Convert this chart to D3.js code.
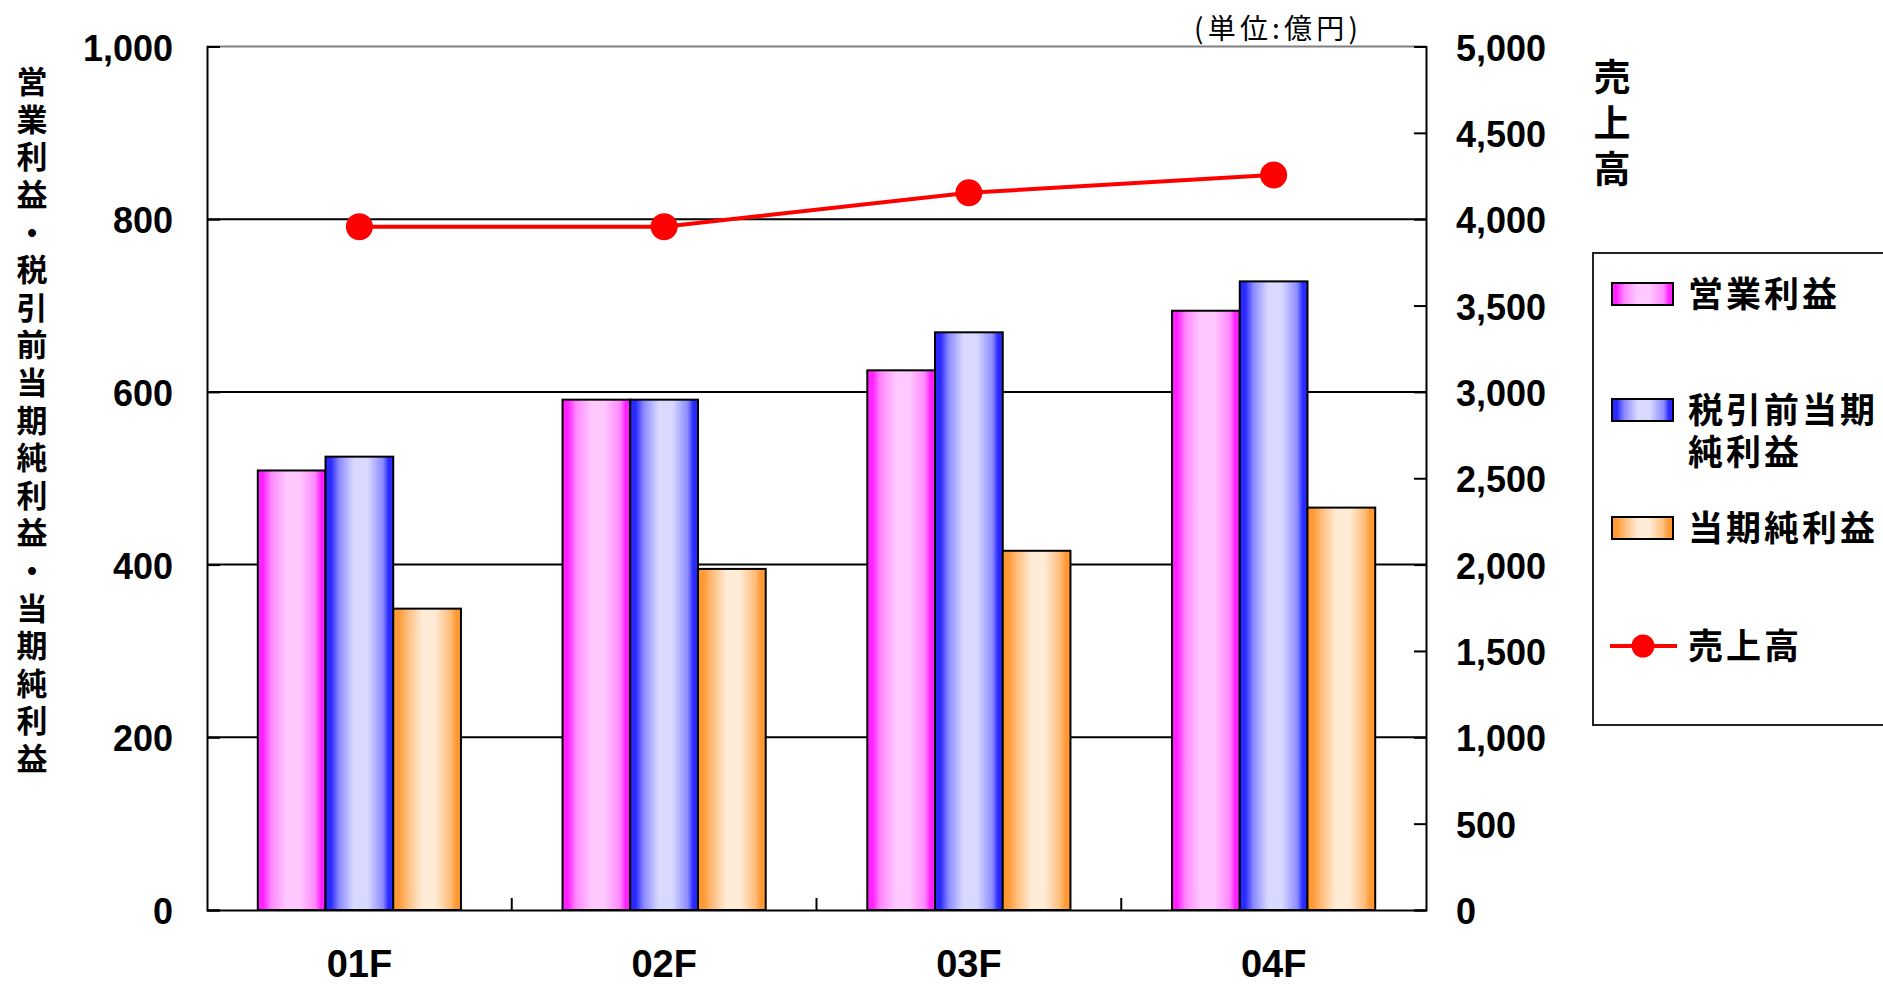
<!DOCTYPE html>
<html lang="ja">
<head>
<meta charset="utf-8">
<script src="https://cdn.jsdelivr.net/npm/d3@7"></script>
<style>
  html, body { margin: 0; padding: 0; background: #fff; }
  svg { display: block; }
</style>
</head>
<body>
<svg id="chart" width="1883" height="984"></svg>
<script>
// 決算期
const categories = ["01F", "02F", "03F", "04F"];
// 棒グラフ（左軸, 億円）
const operatingProfit = [509, 591, 625, 694];   // 営業利益
const pretaxProfit    = [525, 591, 669, 728];   // 税引前当期純利益
const netProfit       = [349, 395, 416, 466];   // 当期純利益
// 折れ線（右軸, 億円）
const sales           = [3957, 3957, 4153, 4256]; // 売上高
// 目盛
const leftTicks  = [0, 200, 400, 600, 800, 1000];
const rightTicks = [0, 500, 1000, 1500, 2000, 2500, 3000, 3500, 4000, 4500, 5000];

const barSeries = [
  { key: "op",  name: ["営業利益"],               values: operatingProfit, edge: "#ff22ff", mid: "#ff88ff", light: "#ffc8ff" },
  { key: "pre", name: ["税引前当期", "純利益"],    values: pretaxProfit,    edge: "#2a2aff", mid: "#8a8aff", light: "#d9d9ff" },
  { key: "net", name: ["当期純利益"],             values: netProfit,       edge: "#ff9933", mid: "#ffbb77", light: "#ffebd6" }
];

const NUM_FONT = "'Liberation Sans', Arial, 'Noto Sans CJK JP', sans-serif";
const JP_FONT = "'Noto Sans CJK JP', 'Liberation Sans', sans-serif";

const svg = d3.select("#chart");
const X0 = 207, X1 = 1426, Y0 = 910, Y1 = 46.5;

const x = d3.scaleBand().domain(categories).range([X0, X1]).padding(0);
const bw = x.bandwidth();
const barW = bw / 4.5;
const xs = d3.scaleBand().domain(barSeries.map(s => s.key))
  .range([barW * 0.75, bw - barW * 0.75]).padding(0);
const yL = d3.scaleLinear().domain([0, 1000]).range([Y0, Y1]);
const yR = d3.scaleLinear().domain([0, 5000]).range([Y0, Y1]);

// 円柱風のグラデーション
const defs = svg.append("defs");
function addGradient(id, s) {
  const g = defs.append("linearGradient").attr("id", id)
    .attr("x1", 0).attr("x2", 1).attr("y1", 0).attr("y2", 0);
  [[0, s.edge], [0.08, s.edge], [0.2, s.mid], [0.42, s.light], [0.62, s.light], [0.85, s.mid], [0.93, s.edge], [1, s.edge]]
    .forEach(([o, c]) => g.append("stop").attr("offset", o).attr("stop-color", c));
}
barSeries.forEach(s => addGradient("grad-" + s.key, s));

// 目盛線
svg.append("g").selectAll("line")
  .data(leftTicks.filter(t => t > 0 && t < 1000))
  .join("line")
  .attr("x1", X0).attr("x2", X1)
  .attr("y1", d => yL(d)).attr("y2", d => yL(d))
  .attr("stroke", "#000").attr("stroke-width", 2);
svg.append("line")
  .attr("x1", X0).attr("x2", X1).attr("y1", yL(1000)).attr("y2", yL(1000))
  .attr("stroke", "#808080").attr("stroke-width", 2);

// 棒グラフ
const groups = svg.append("g").selectAll("g")
  .data(categories)
  .join("g")
  .attr("transform", d => `translate(${x(d)},0)`);
groups.selectAll("rect")
  .data((c, i) => barSeries.map(s => ({ s, v: s.values[i] })))
  .join("rect")
  .attr("x", d => xs(d.s.key))
  .attr("width", xs.bandwidth())
  .attr("y", d => yL(d.v))
  .attr("height", d => Y0 - yL(d.v))
  .attr("fill", d => `url(#grad-${d.s.key})`)
  .attr("stroke", "#000").attr("stroke-width", 2);

// 左軸
const axL = svg.append("g").attr("transform", `translate(${X0},0)`)
  .call(d3.axisLeft(yL).tickValues(leftTicks).tickSize(-13).tickPadding(34).tickFormat(d3.format(",")));
axL.select(".domain").attr("stroke", "#000").attr("stroke-width", 2);
axL.selectAll(".tick line").attr("stroke", "#000").attr("stroke-width", 2);
axL.selectAll(".tick text").attr("font-family", NUM_FONT).attr("font-size", 36)
  .attr("font-weight", "bold").attr("fill", "#000").attr("dy", "0.38em");

// 右軸
const axR = svg.append("g").attr("transform", `translate(${X1},0)`)
  .call(d3.axisRight(yR).tickValues(rightTicks).tickSize(-12).tickPadding(30).tickFormat(d3.format(",")));
axR.select(".domain").attr("stroke", "#000").attr("stroke-width", 2);
axR.selectAll(".tick line").attr("stroke", "#000").attr("stroke-width", 2);
axR.selectAll(".tick text").attr("font-family", NUM_FONT).attr("font-size", 36)
  .attr("font-weight", "bold").attr("fill", "#000").attr("dy", "0.38em");

// 横軸
const axB = svg.append("g").attr("transform", `translate(0,${Y0})`)
  .call(d3.axisBottom(x).tickSize(0).tickPadding(40));
axB.select(".domain").attr("stroke", "#000").attr("stroke-width", 2);
axB.selectAll(".tick text").attr("font-family", NUM_FONT).attr("font-size", 38)
  .attr("font-weight", "bold").attr("fill", "#000");
svg.append("g").selectAll("line")
  .data(categories.slice(1))
  .join("line")
  .attr("x1", d => x(d)).attr("x2", d => x(d))
  .attr("y1", Y0).attr("y2", Y0 - 12)
  .attr("stroke", "#000").attr("stroke-width", 2);

// 売上高（折れ線）
const cx = d => x(d) + bw / 2;
const lineData = categories.map((c, i) => [cx(c), yR(sales[i])]);
svg.append("path")
  .attr("d", d3.line()(lineData))
  .attr("fill", "none").attr("stroke", "#ff0000").attr("stroke-width", 4);
svg.append("g").selectAll("circle")
  .data(lineData)
  .join("circle")
  .attr("cx", d => d[0]).attr("cy", d => d[1]).attr("r", 13.5)
  .attr("fill", "#ff0000");

// 軸タイトル（縦書き）
svg.append("text")
  .attr("x", 32).attr("y", 66)
  .style("writing-mode", "vertical-rl")
  .style("text-orientation", "upright")
  .attr("font-family", JP_FONT).attr("font-size", 31).attr("font-weight", "bold")
  .attr("letter-spacing", 6.6)
  .text("営業利益・税引前当期純利益・当期純利益");
svg.append("text")
  .attr("x", 1612).attr("y", 58)
  .style("writing-mode", "vertical-rl")
  .style("text-orientation", "upright")
  .attr("font-family", JP_FONT).attr("font-size", 37).attr("font-weight", "bold")
  .attr("letter-spacing", 9)
  .text("売上高");

// 単位
svg.append("text")
  .attr("x", 1194).attr("y", 29).attr("dy", "0.35em")
  .attr("font-family", JP_FONT).attr("font-size", 28)
  .attr("textLength", 164).attr("lengthAdjust", "spacing")
  .text("(単位:億円)");

// 凡例
const legend = svg.append("g");
legend.append("rect")
  .attr("x", 1593).attr("y", 253).attr("width", 400).attr("height", 472)
  .attr("fill", "#fff").attr("stroke", "#222").attr("stroke-width", 2);
const legendRows = [294, 410, 528];
barSeries.forEach((s, i) => {
  const yc = legendRows[i];
  legend.append("rect")
    .attr("x", 1612).attr("y", yc - 11).attr("width", 61).attr("height", 22)
    .attr("fill", `url(#grad-${s.key})`).attr("stroke", "#000").attr("stroke-width", 2);
  const t = legend.append("text")
    .attr("font-family", JP_FONT).attr("font-size", 35).attr("font-weight", "bold")
    .attr("letter-spacing", 3);
  s.name.forEach((ln, j) => {
    t.append("tspan").attr("x", 1688).attr("y", yc + j * 42).attr("dy", "0.36em").text(ln);
  });
});
legend.append("line")
  .attr("x1", 1610).attr("x2", 1677).attr("y1", 646).attr("y2", 646)
  .attr("stroke", "#ff0000").attr("stroke-width", 4);
legend.append("circle").attr("cx", 1643).attr("cy", 646).attr("r", 11.5).attr("fill", "#ff0000");
legend.append("text")
  .attr("x", 1688).attr("y", 646).attr("dy", "0.36em")
  .attr("font-family", JP_FONT).attr("font-size", 35).attr("font-weight", "bold")
  .attr("letter-spacing", 3)
  .text("売上高");
</script>
</body>
</html>
